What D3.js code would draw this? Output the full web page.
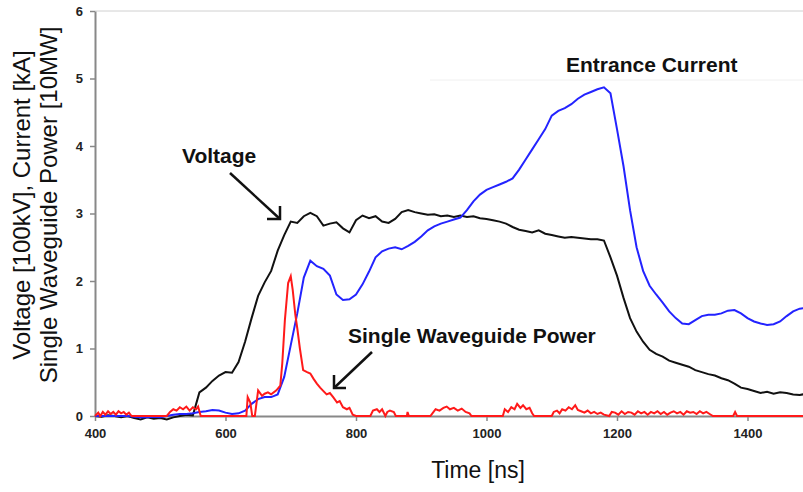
<!DOCTYPE html>
<html>
<head>
<meta charset="utf-8">
<script src="https://cdn.jsdelivr.net/npm/d3@7"></script>
<style>
  body { margin: 0; background: #fff; }
  svg { display: block; font-family: Arial, "Liberation Sans", sans-serif; }
</style>
</head>
<body>
<script>
// sample times for voltage and current traces [ns]
const time = [400,410,420,430,440,450,460,470,480,490,500,510,520,530,540,550,
  560,570,580,590,600,610,620,630,640,650,660,670,680,690,700,710,720,730,740,750,
  760,770,780,790,800,810,820,830,840,850,860,870,880,890,900,910,920,930,940,950,
  960,970,980,990,1000,1010,1020,1030,1040,1050,1060,1070,1080,1090,1100,1110,1120,
  1130,1140,1150,1160,1170,1180,1190,1200,1210,1220,1230,1240,1250,1260,1270,1280,
  1290,1300,1310,1320,1330,1340,1350,1360,1370,1380,1390,1400,1410,1420,1430,1440,
  1450,1460,1470,1480,1490,1500]

// voltage [100kV]
const voltage = [0.00,-0.01,0.01,0.00,-0.02,0.00,-0.03,-0.05,-0.02,-0.04,-0.03,-0.05,-0.02,0.00,0.02,0.01,
  0.35,0.42,0.52,0.60,0.65,0.64,0.80,1.10,1.45,1.78,1.98,2.15,2.45,2.68,2.88,2.86,2.96,3.01,2.96,2.82,
  2.85,2.87,2.78,2.72,2.90,2.97,2.93,2.96,2.88,2.86,2.92,3.02,3.05,3.02,3.00,2.98,2.99,2.96,2.97,2.95,
  2.97,2.95,2.96,2.93,2.92,2.90,2.88,2.85,2.80,2.76,2.74,2.72,2.75,2.70,2.68,2.66,2.64,
  2.65,2.64,2.63,2.62,2.62,2.60,2.35,2.08,1.75,1.45,1.25,1.10,0.98,0.92,0.88,0.82,
  0.79,0.76,0.73,0.68,0.65,0.62,0.60,0.56,0.53,0.48,0.42,0.40,0.37,0.34,0.36,0.33,
  0.35,0.34,0.32,0.31,0.33,0.30]

// entrance current [kA]
const current = [0,0,0,0,0,0,-0.01,-0.02,-0.02,-0.01,-0.02,0.00,0.02,0.03,0.03,0.04,
  0.06,0.07,0.09,0.08,0.05,0.03,0.04,0.08,0.18,0.25,0.28,0.28,0.32,0.58,1.05,1.52,2.05,2.30,2.22,2.18,
  2.08,1.80,1.72,1.73,1.80,1.95,2.14,2.35,2.44,2.48,2.50,2.47,2.52,2.58,2.66,2.75,2.81,2.85,2.88,2.91,
  2.94,3.05,3.18,3.28,3.35,3.39,3.43,3.47,3.52,3.65,3.80,3.95,4.10,4.25,4.45,4.52,4.56,
  4.62,4.70,4.76,4.80,4.84,4.87,4.78,4.25,3.70,3.05,2.50,2.15,1.93,1.80,1.68,1.55,
  1.45,1.37,1.36,1.42,1.48,1.50,1.50,1.52,1.56,1.57,1.52,1.45,1.40,1.37,1.35,1.36,
  1.40,1.48,1.55,1.59,1.60,1.62]

// single waveguide power [10MW], [time, value]
const power = [[400,0],[405,0.05],[408,0],[412,0.06],[416,0.02],[420,0.07],[424,0.03],[428,0.06],
  [432,0.02],[436,0.07],[440,0.04],[444,0.06],[448,0.02],[452,0.05],[456,0],[510,0],[515,0.06],
  [520,0.1],[525,0.08],[530,0.13],[535,0.1],[540,0.14],[545,0.08],[550,0.13],[555,0.1],[558,0.14],
  [562,0],[632,0],[634,0.28],[638,0.2],[641,0],[645,0],[650,0.38],[656,0.3],[660,0.33],[665,0.35],
  [670,0.32],[678,0.38],[684,0.45],[687,0.78],[691,1.42],[696,1.97],[700,2.07],[703,1.87],[707,1.5],
  [710,1.3],[714,1.0],[719,0.68],[725,0.65],[730,0.63],[735,0.55],[740,0.48],[745,0.42],[749,0.38],
  [755,0.32],[760,0.34],[765,0.28],[771,0.2],[775,0.22],[780,0.13],[786,0.1],[790,0.12],[795,0.02],
  [800,0],[822,0],[826,0.08],[832,0.1],[836,0.06],[840,0.1],[845,0],[848,0.06],[852,0.08],[858,0.06],
  [861,0],[878,0],[879,0.06],[881,0],[914,0],[918,0.05],[922,0.1],[928,0.08],[934,0.12],[939,0.14],
  [944,0.1],[950,0.12],[956,0.08],[962,0.11],[968,0.06],[974,0.04],[977,0],[1025,0],[1028,0.1],
  [1033,0.06],[1038,0.13],[1043,0.1],[1047,0.18],[1052,0.12],[1056,0.16],[1061,0.1],[1066,0.12],
  [1070,0.04],[1073,0],[1100,0],[1103,0.06],[1108,0.08],[1112,0.04],[1116,0.1],[1121,0.08],
  [1126,0.13],[1131,0.1],[1136,0.16],[1140,0.09],[1145,0.07],[1150,0.05],[1155,0.08],[1160,0.04],
  [1165,0.06],[1170,0.03],[1175,0.05],[1180,0.02],[1188,0],[1192,0.06],[1197,0.05],[1202,0.02],
  [1207,0.07],[1212,0.03],[1217,0.06],[1222,0.05],[1227,0.02],[1232,0.07],[1237,0.04],[1242,0.06],
  [1247,0.02],[1252,0.06],[1257,0.04],[1262,0.07],[1267,0.03],[1272,0.06],[1277,0.02],[1282,0.05],
  [1287,0.07],[1292,0.04],[1297,0.06],[1302,0.02],[1307,0.07],[1312,0.05],[1317,0.06],[1322,0.03],
  [1327,0.07],[1332,0.04],[1337,0.06],[1342,0.03],[1347,0],[1378,0],[1381,0.06],[1384,0],[1500,0]]

const xTicks = [400, 600, 800, 1000, 1200, 1400]
const yTicks = [0, 1, 2, 3, 4, 5, 6]

const W = 803, H = 492

const svg = d3.select('body').append('svg')
    .attr('width', W)
    .attr('height', H)

// scales: plot runs past the right edge of the picture (cropped at 1500 ns)
const x = d3.scaleLinear().domain([400, 1500]).range([95, 812.75])
const y = d3.scaleLinear().domain([0, 6]).range([416, 11])

// faint frame lines
svg.append('line')
    .attr('x1', 95).attr('x2', W).attr('y1', y(6)).attr('y2', y(6))
    .attr('stroke', '#d0d0d0').attr('stroke-width', 1)
svg.append('line')
    .attr('x1', 430).attr('x2', W).attr('y1', 80).attr('y2', 80)
    .attr('stroke', '#f0f0f0').attr('stroke-width', 1)

// axes
const fmt = d3.format('d')
const xAxis = svg.append('g')
    .attr('transform', `translate(0,${y(0)})`)
    .call(d3.axisBottom(x).tickValues(xTicks).tickFormat(fmt).tickSize(5).tickPadding(8).tickSizeOuter(0))
const yAxis = svg.append('g')
    .attr('transform', `translate(${x(400)},0)`)
    .call(d3.axisLeft(y).tickValues(yTicks).tickFormat(fmt).tickSize(5).tickPadding(7).tickSizeOuter(0))

for (const g of [xAxis, yAxis]) {
    g.select('.domain').attr('stroke', '#888').attr('stroke-width', 2)
    g.selectAll('.tick line').attr('stroke', '#888').attr('stroke-width', 1.5)
    g.selectAll('.tick text')
        .attr('fill', '#222')
        .style('font-size', '13px')
        .style('font-weight', 'bold')
}

// traces
const line = d3.line()
    .x(d => x(d[0]))
    .y(d => y(d[1]))

const traces = svg.append('g')

traces.append('path')
    .datum(time.map((t, i) => [t, voltage[i]]))
    .attr('d', line)
    .attr('fill', 'none')
    .attr('stroke', '#111')
    .attr('stroke-width', 2)

traces.append('path')
    .datum(time.map((t, i) => [t, current[i]]))
    .attr('d', line)
    .attr('fill', 'none')
    .attr('stroke', '#2323ff')
    .attr('stroke-width', 2)

traces.append('path')
    .datum(power)
    .attr('d', line)
    .attr('fill', 'none')
    .attr('stroke', '#ff1a1a')
    .attr('stroke-width', 2)

// axis titles
svg.append('text')
    .attr('x', 478).attr('y', 478)
    .attr('text-anchor', 'middle')
    .style('font-size', '23px')
    .attr('fill', '#111')
    .text('Time [ns]')

const yTitle = svg.append('text')
    .attr('transform', 'translate(0,205) rotate(-90)')
    .attr('text-anchor', 'middle')
    .style('font-size', '24px')
    .attr('fill', '#111')
yTitle.append('tspan').attr('x', 0).attr('y', 30).text('Voltage [100kV], Current [kA]')
yTitle.append('tspan').attr('x', 0).attr('y', 57).text('Single Waveguide Power [10MW]')

// annotations
const notes = [
    { text: 'Voltage', x: 182, y: 163 },
    { text: 'Entrance Current', x: 566, y: 72 },
    { text: 'Single Waveguide Power', x: 348, y: 343 }
]
svg.selectAll('.note')
    .data(notes)
    .join('text')
    .attr('class', 'note')
    .attr('x', d => d.x)
    .attr('y', d => d.y)
    .style('font-size', '21px')
    .style('font-weight', 'bold')
    .attr('fill', '#111')
    .text(d => d.text)

// arrows: [from, tip, head direction signs]
const arrows = [
    { from: [230, 173], to: [280, 219], hx: -13, hy: -13 },
    { from: [372, 352], to: [334, 388], hx: 12, hy: -13 }
]
for (const a of arrows) {
    svg.append('path')
        .attr('d', d3.line()([a.from, a.to]))
        .attr('stroke', '#111').attr('stroke-width', 2.5).attr('fill', 'none')
    svg.append('path')
        .attr('d', d3.line()([[a.to[0] + a.hx, a.to[1]], a.to, [a.to[0], a.to[1] + a.hy]]))
        .attr('stroke', '#111').attr('stroke-width', 2.5).attr('fill', 'none')
}
</script>
</body>
</html>
